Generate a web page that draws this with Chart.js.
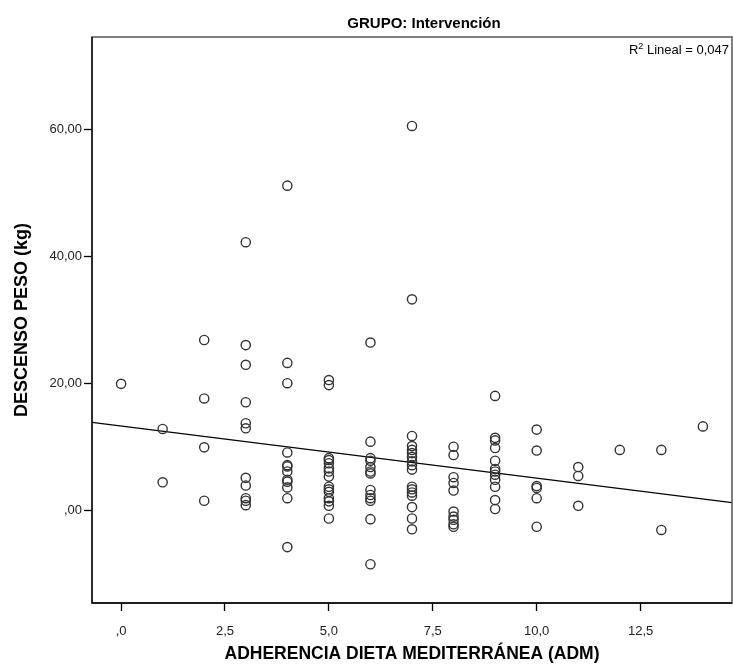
<!DOCTYPE html>
<html>
<head>
<meta charset="utf-8">
<script src="https://cdn.jsdelivr.net/npm/chart.js@4/dist/chart.umd.min.js"></script>
<style>
  body { margin: 0; background: #fff; }
  canvas { display: block; }
</style>
</head>
<body>
<canvas id="dispersion" width="733" height="666"></canvas>
<script>
// ADM score and weight loss (kg), one entry per patient
const adm = [
  0,
  1, 1,
  2, 2, 2, 2,
  3, 3, 3, 3, 3, 3, 3, 3, 3, 3, 3,
  4, 4, 4, 4, 4, 4, 4, 4, 4, 4, 4, 4,
  5, 5, 5, 5, 5, 5, 5, 5, 5, 5, 5, 5, 5, 5, 5,
  6, 6, 6, 6, 6, 6, 6, 6, 6, 6, 6, 6, 6,
  7, 7, 7, 7, 7, 7, 7, 7, 7, 7, 7, 7, 7, 7, 7, 7, 7,
  8, 8, 8, 8, 8, 8, 8, 8, 8, 8,
  9, 9, 9, 9, 9, 9, 9, 9, 9, 9, 9, 9,
  10, 10, 10, 10, 10, 10,
  11, 11, 11,
  12,
  13, 13,
  14
];
const descenso = [
  20.0,
  12.9, 4.5,
  26.9, 17.7, 10.0, 1.6,
  42.3, 26.1, 23.0, 17.1, 13.8, 13.0, 5.2, 4.0, 2.0, 1.6, 0.9,
  51.2, 23.3, 20.1, 9.2, 7.2, 7.0, 6.2, 4.9, 4.6, 3.7, 2.0, -5.7,
  20.6, 19.8, 8.3, 8.0, 7.5, 6.7, 6.2, 5.4, 3.8, 3.4, 3.0, 2.0, 1.5, 0.8, -1.2,
  26.5, 10.9, 8.3, 7.9, 6.9, 6.2, 5.9, 3.3, 2.5, 2.0, 1.6, -1.3, -8.4,
  60.6, 33.3, 11.8, 10.2, 9.6, 9.1, 8.5, 7.8, 7.2, 6.5, 3.8, 3.4, 2.9, 2.4, 0.6, -1.2, -2.9,
  10.1, 8.8, 5.3, 4.4, 3.2, -0.1, -0.9, -1.4, -2.1, -2.5,
  18.1, 11.5, 11.1, 9.9, 7.9, 6.6, 6.2, 5.7, 4.9, 3.8, 1.7, 0.3,
  12.8, 9.5, 3.9, 3.6, 2.0, -2.5,
  6.9, 5.5, 0.8,
  9.6,
  9.6, -3.0,
  13.3
];

// linear fit
const fitIntercept = 13.37;
const fitSlope = -0.82;
const r2Label = "0,047";

const xTicks = [0, 2.5, 5, 7.5, 10, 12.5];
const yTicks = [0, 20, 40, 60];

const X_MIN = -0.7, X_MAX = 14.7;
const Y_MIN = -14.5, Y_MAX = 74.6;

const FONT = "'Liberation Sans', Arial, sans-serif";

const points = adm.map((v, i) => ({ x: v, y: descenso[i] }));
const fitLine = [X_MIN, X_MAX].map(v => ({ x: v, y: fitIntercept + fitSlope * v }));

const spssComma = (v, dec) => {
  const s = v.toFixed(dec).replace('.', ',');
  return s.startsWith('0,') ? s.slice(1) : s;
};

// frame round the plot, group title and fit label
const frameAndLabel = {
  id: 'frameAndLabel',
  afterDraw(chart) {
    const { ctx, chartArea: a } = chart;
    ctx.save();
    ctx.strokeStyle = '#555';
    ctx.lineWidth = 1.5;
    ctx.strokeRect(a.left, a.top, a.right - a.left, a.bottom - a.top);
    ctx.strokeStyle = '#000';
    ctx.lineWidth = 1.3;
    ctx.beginPath();
    ctx.moveTo(a.left, a.top);
    ctx.lineTo(a.left, a.bottom);
    ctx.lineTo(a.right, a.bottom);
    ctx.stroke();

    ctx.fillStyle = '#000';
    ctx.textAlign = 'center';
    ctx.textBaseline = 'middle';
    ctx.font = 'bold 15px ' + FONT;
    ctx.fillText('GRUPO: Intervención', (a.left + a.right) / 2 + 12, 24);

    ctx.textBaseline = 'alphabetic';
    ctx.textAlign = 'right';
    ctx.font = '13px ' + FONT;
    const rest = ' Lineal = ' + r2Label;
    const xr = a.right - 3;
    const y = a.top + 17;
    ctx.fillText(rest, xr, y);
    const wRest = ctx.measureText(rest).width;
    ctx.font = '9px ' + FONT;
    ctx.fillText('2', xr - wRest, y - 5);
    const w2 = ctx.measureText('2').width;
    ctx.font = '13px ' + FONT;
    ctx.fillText('R', xr - wRest - w2, y);
    ctx.restore();
  }
};

new Chart(document.getElementById('dispersion'), {
  type: 'scatter',
  data: {
    datasets: [
      {
        label: 'Descenso peso',
        data: points,
        pointStyle: 'circle',
        pointRadius: 4.6,
        pointBorderWidth: 1.4,
        pointBorderColor: '#333',
        pointBackgroundColor: 'rgba(0,0,0,0)',
        showLine: false
      },
      {
        type: 'line',
        label: 'Lineal',
        data: fitLine,
        borderColor: '#000',
        borderWidth: 1.2,
        pointRadius: 0,
        fill: false
      }
    ]
  },
  options: {
    responsive: false,
    animation: false,
    layout: { autoPadding: false, padding: { top: 37, right: 1, bottom: 0, left: 0 } },
    plugins: {
      legend: { display: false },
      tooltip: { enabled: false },
      title: { display: false }
    },
    scales: {
      x: {
        type: 'linear',
        min: X_MIN,
        max: X_MAX,
        afterBuildTicks: s => { s.ticks = xTicks.map(v => ({ value: v })); },
        afterFit: s => { s.height = 63; },
        border: { display: false },
        grid: { drawOnChartArea: false, tickLength: 8, tickWidth: 1.3, tickColor: '#000' },
        ticks: {
          color: '#222',
          padding: 13,
          font: { family: FONT, size: 13 },
          callback: v => spssComma(v, 1)
        },
        title: {
          display: true,
          text: 'ADHERENCIA DIETA MEDITERRÁNEA (ADM)',
          color: '#000',
          font: { family: FONT, size: 17.5, weight: 'bold' },
          padding: { top: 0, bottom: 1 }
        }
      },
      y: {
        type: 'linear',
        min: Y_MIN,
        max: Y_MAX,
        afterBuildTicks: s => { s.ticks = yTicks.map(v => ({ value: v })); },
        afterFit: s => { s.width = 92; },
        border: { display: false },
        grid: { drawOnChartArea: false, tickLength: 8, tickWidth: 1.3, tickColor: '#000' },
        ticks: {
          color: '#222',
          padding: 2,
          font: { family: FONT, size: 13 },
          callback: v => spssComma(v, 2)
        },
        title: {
          display: true,
          text: 'DESCENSO PESO (kg)',
          color: '#000',
          font: { family: FONT, size: 18, weight: 'bold' },
          padding: { top: 11, bottom: 0 }
        }
      }
    }
  },
  plugins: [frameAndLabel]
});
</script>
</body>
</html>
